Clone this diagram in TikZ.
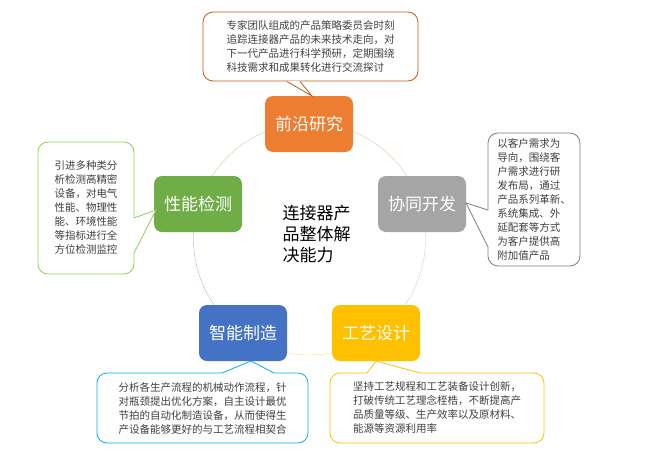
\documentclass[tikz,border=0pt]{standalone}
\usepackage{fontspec}
\setmainfont{Noto Sans CJK SC}
\usepackage{tikz}

\definecolor{cOrange}{HTML}{ED7D31}
\definecolor{cGray}{HTML}{A5A5A5}
\definecolor{cYellow}{HTML}{FFC000}
\definecolor{cBlue}{HTML}{4472C4}
\definecolor{cGreen}{HTML}{70AD47}
\definecolor{lOrange}{HTML}{C55A11}
\definecolor{lGray}{HTML}{7F7F7F}
\definecolor{lYellow}{HTML}{FFC000}
\definecolor{lBlue}{HTML}{00B0F0}
\definecolor{lGreen}{HTML}{92D050}
\definecolor{txt}{HTML}{404040}

\tikzset{
  stage/.style={fill=#1, rounded corners=8pt, minimum width=88pt, minimum height=56pt,
    text=white, font=\fontsize{17}{20}\selectfont, inner sep=0pt},
  note/.style={draw=#1, fill=white, rounded corners=10pt, line width=0.8pt,
    text=txt, font=\fontsize{10.5}{14}\selectfont, align=left, inner sep=0pt}
}

\newcommand{\pointer}[4]{%
  \draw[white, line width=1.6pt] (#2) -- (#4);
  \fill[white] (#2) -- (#3) -- (#4) -- cycle;
  \draw[#1, line width=0.8pt] (#2) -- (#3) -- (#4);
}

\begin{document}
\begin{tikzpicture}[x=1pt, y=-1pt]
  \useasboundingbox (0,0) rectangle (649,456);

  % ring
  \coordinate (ctr) at (309.5,239);
  \draw[cOrange!50] (ctr) ++(-90:116) arc[start angle=-90, end angle=-17, radius=116];
  \draw[cGray!50] (ctr) ++(-17:116) arc[start angle=-17, end angle=55, radius=116];
  \draw[cYellow!60] (ctr) ++(55:116) arc[start angle=55, end angle=125, radius=116];
  \draw[cBlue!50] (ctr) ++(125:116) arc[start angle=125, end angle=197, radius=116];
  \draw[cGreen!50] (ctr) ++(197:116) arc[start angle=197, end angle=270, radius=116];

  \node[stage=cOrange] (qy) at (309,124) {前沿研究};
  \node[stage=cGray] (xt) at (422,204) {协同开发};
  \node[stage=cYellow] (gy) at (376,333) {工艺设计};
  \node[stage=cBlue] (zn) at (243,333) {智能制造};
  \node[stage=cGreen] (xn) at (198,204) {性能检测};

  \node[anchor=west, align=left, text=black, font=\fontsize{17}{21}\selectfont] (core) at (279,234)
    {连接器产\\品整体解\\决能力};

  % notes
  \node[note=lOrange, minimum width=215pt, minimum height=69pt] (nqy) at (310.5,46.5)
    {专家团队组成的产品策略委员会时刻\\追踪连接器产品的未来技术走向，对\\下一代产品进行科学预研，定期围绕\\科技需求和成果转化进行交流探讨};
  \node[note=lGray, minimum width=92pt, minimum height=133pt] (nxt) at (534,199.5)
    {以客户需求为\\导向，围绕客\\户需求进行研\\发布局，通过\\产品系列革新、\\系统集成、外\\延配套等方式\\为客户提供高\\附加值产品};
  \node[note=lGreen, minimum width=96pt, minimum height=132pt] (nxn) at (86,208)
    {引进多种类分\\析检测高精密\\设备，对电气\\性能、物理性\\能、环境性能\\等指标进行全\\方位检测监控};
  \node[note=lBlue, minimum width=211pt, minimum height=70pt] (nzn) at (202.5,408)
    {分析各生产流程的机械动作流程，针\\对瓶颈提出优化方案，自主设计最优\\节拍的自动化制造设备，从而使得生\\产设备能够更好的与工艺流程相契合};
  \node[note=lYellow, minimum width=214pt, minimum height=70pt] (ngy) at (437,408)
    {坚持工艺规程和工艺装备设计创新，\\打破传统工艺理念桎梏，不断提高产\\品质量等级、生产效率以及原材料、\\能源等资源利用率};

  % pointers
  \coordinate (qa) at (287,81.5);   \coordinate (qb) at (300,81.5);   \coordinate (qt) at (312,96);
  \coordinate (xa) at (488,210);    \coordinate (xb) at (488,247);    \coordinate (xtip) at (466,203);
  \coordinate (ga) at (134,218);    \coordinate (gb) at (134,253);    \coordinate (gt) at (156,210);
  \coordinate (ba) at (222,373);    \coordinate (bb) at (274,373);    \coordinate (bt) at (251,361);
  \coordinate (ya) at (367,373);    \coordinate (yb) at (420,373);    \coordinate (yt) at (376,361);
  \pointer{lOrange}{qa}{qt}{qb}
  \pointer{lGray}{xa}{xtip}{xb}
  \pointer{lGreen}{ga}{gt}{gb}
  \pointer{lBlue}{ba}{bt}{bb}
  \pointer{lYellow}{ya}{yt}{yb}
\end{tikzpicture}
\end{document}
